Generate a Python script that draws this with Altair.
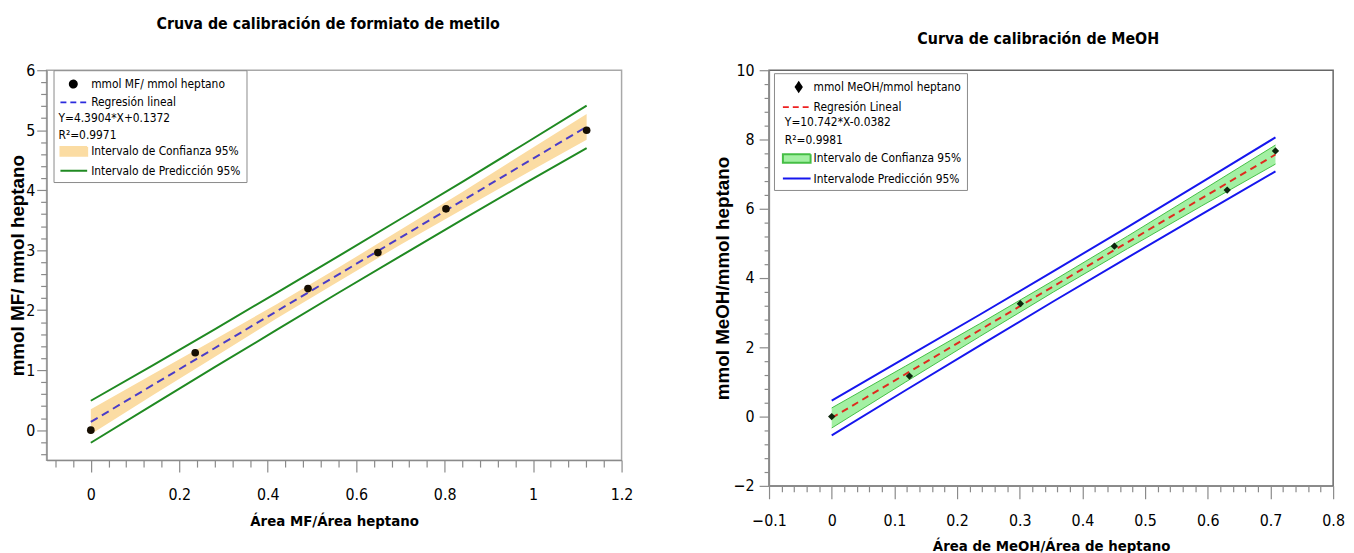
import altair as alt
import pandas as pd

NARROW = "DejaVu Sans Condensed, DejaVu Sans, sans-serif"
SANS = "Liberation Sans, Arial, sans-serif"

# ---------------- Left chart: formiato de metilo ----------------
mf_x = [0.0, 0.236, 0.491, 0.649, 0.803, 1.121]
mf_y = [0.0, 1.29, 2.36, 2.96, 3.69, 5.00]
mf_fit_x = [0.0, 1.121]
mf_fit_y = [0.137, 5.059]
mf_band_x = [0.0, 0.14, 0.28, 0.42, 0.56, 0.70, 0.84, 0.98, 1.121]
mf_ci_lo = [-0.07, 0.58, 1.22, 1.86, 2.48, 3.09, 3.68, 4.26, 4.84]
mf_ci_hi = [0.35, 0.93, 1.51, 2.10, 2.71, 3.34, 3.97, 4.62, 5.27]
mf_pi_lo = [-0.21, 0.42, 1.05, 1.67, 2.29, 2.90, 3.51, 4.11, 4.70]
mf_pi_hi = [0.49, 1.08, 1.68, 2.29, 2.90, 3.52, 4.14, 4.77, 5.41]
mf_legend = ["mmol MF/ mmol heptano", "Regresión lineal", "Y=4.3904*X+0.1372",
             "R²=0.9971", "Intervalo de Confianza 95%", "Intervalo de Predicción 95%"]
mf_xticks = [round(-0.08 + 0.04 * i, 2) for i in range(33)]
mf_yticks = [round(-0.4 + 0.2 * i, 1) for i in range(33)]

# ---------------- Right chart: MeOH ----------------
meoh_x = [0.0, 0.124, 0.301, 0.451, 0.631, 0.708]
meoh_y = [0.0, 1.17, 3.26, 4.92, 6.54, 7.67]
meoh_fit_x = [0.0, 0.708]
meoh_fit_y = [-0.038, 7.567]
meoh_band_x = [0.0, 0.118, 0.236, 0.354, 0.472, 0.59, 0.708]
meoh_ci_lo = [-0.33, 1.00, 2.31, 3.60, 4.85, 6.08, 7.29]
meoh_ci_hi = [0.25, 1.46, 2.68, 3.93, 5.21, 6.52, 7.84]
meoh_pi_lo = [-0.54, 0.76, 2.05, 3.33, 4.59, 5.84, 7.08]
meoh_pi_hi = [0.46, 1.70, 2.94, 4.20, 5.47, 6.76, 8.06]
meoh_legend = ["mmol MeOH/mmol heptano", "Regresión Lineal", "Y=10.742*X-0.0382",
               "R²=0.9981", "Intervalo de Confianza 95%", "Intervalode Predicción 95%"]
meoh_xticks = [round(-0.1 + 0.02 * i, 2) for i in range(46)]
meoh_yticks = [round(-2 + 0.4 * i, 1) for i in range(31)]

LEG_CH = dict(shape="independent", fill="independent", stroke="independent",
              strokeDash="independent")


def make_axis(title, values, test, major, minor, lpad, tpad, tfont, tfs):
    return alt.Axis(
        title=title, values=values,
        labelExpr=f"({test}) ? format(datum.value, '~g') : ''",
        tickSize={"condition": {"test": test, "value": major}, "value": minor},
        tickColor="#8a8a8a", domainColor="#8a8a8a", tickWidth=1.2, domainWidth=1.2,
        labelFont=NARROW, labelFontSize=16, labelColor="black", labelPadding=lpad,
        labelOverlap=False, labelFlush=False,
        titleFont=tfont, titleFontSize=tfs, titleFontWeight="bold", titleColor="black",
        titlePadding=tpad, grid=False,
    )


def legend_layers(field, labels, shapes, fills, strokes, dashes, lx, ly, pad, rowpad, loff, eq_x):
    eqs = [labels[2], labels[3]]
    blank = "indexof(['%s','%s'], datum.label) >= 0 ? '' : datum.label" % (eqs[0], eqs[1])
    leg = alt.Legend(
        title=None, orient="none", legendX=lx, legendY=ly, direction="vertical",
        strokeColor="#8a8a8a", fillColor="white", padding=pad, rowPadding=rowpad,
        labelFont=NARROW, labelFontSize=12, labelColor="black", labelOffset=loff,
        labelLimit=400, symbolSize=256, symbolStrokeWidth=2, symbolOpacity=1,
        labelExpr=blank,
    )
    # second, borderless legend carrying the two equation lines (text only)
    leg_eq = alt.Legend(
        title=None, orient="none", legendX=eq_x, legendY=ly + pad + 2 * (16 + rowpad),
        direction="vertical", padding=0, rowPadding=rowpad,
        labelFont=NARROW, labelFontSize=12, labelColor="black", labelOffset=0,
        labelLimit=400, symbolSize=256, symbolOpacity=0, symbolStrokeWidth=0,
    )
    df = pd.DataFrame({field: labels})
    df_eq = pd.DataFrame({"eq_" + field: eqs})
    main = alt.Chart(df).transform_filter("false").mark_point(opacity=1).encode(
        shape=alt.Shape(f"{field}:N", scale=alt.Scale(domain=labels, range=shapes), legend=leg),
        fill=alt.Fill(f"{field}:N", scale=alt.Scale(domain=labels, range=fills), legend=leg),
        stroke=alt.Stroke(f"{field}:N", scale=alt.Scale(domain=labels, range=strokes), legend=leg),
        strokeDash=alt.StrokeDash(f"{field}:N", scale=alt.Scale(domain=labels, range=dashes), legend=leg),
    )
    eq = alt.Chart(df_eq).transform_filter("false").mark_point(opacity=0).encode(
        shape=alt.Shape(f"eq_{field}:N", scale=alt.Scale(domain=eqs, range=["circle", "circle"]),
                        legend=leg_eq),
    )
    return main, eq


# ---------- left ----------
mfX_axis = make_axis("Área MF/Área heptano", mf_xticks,
                     "abs(datum.value*5 - round(datum.value*5)) < 1e-6", 12, 7, 15, 11, NARROW, 15)
mfY_axis = make_axis("mmol MF/ mmol heptano", mf_yticks,
                     "abs(datum.value - round(datum.value)) < 1e-6", 10, 6, 2, -2, SANS, 19)
mf_xs = alt.Scale(domain=[-0.1, 1.2], nice=False, zero=False)
mf_ys = alt.Scale(domain=[-0.5, 6], nice=False, zero=False)


def mfX(f="x"):
    return alt.X(f"{f}:Q", scale=mf_xs, axis=mfX_axis)


def mfY(f):
    return alt.Y(f"{f}:Q", scale=mf_ys, axis=mfY_axis)


mf_band = pd.DataFrame({"x": mf_band_x, "ci_lo": mf_ci_lo, "ci_hi": mf_ci_hi,
                        "pi_lo": mf_pi_lo, "pi_hi": mf_pi_hi})
mf_pts = pd.DataFrame({"x": mf_x, "y": mf_y})
mf_fit = pd.DataFrame({"x": mf_fit_x, "y": mf_fit_y})

mf_ci = alt.Chart(mf_band).mark_area(color="#FBDCA3", opacity=1).encode(
    x=mfX(), y=mfY("ci_lo"), y2="ci_hi:Q")
mf_pi = alt.Chart(mf_band).transform_fold(["pi_lo", "pi_hi"], as_=["lim", "val"]).mark_line(
    color="#208A22", strokeWidth=2).encode(x=mfX(), y=mfY("val"), detail="lim:N")
mf_line = alt.Chart(mf_fit).mark_line(color="#4A3CC8", strokeWidth=2, strokeDash=[8, 5]).encode(
    x=mfX(), y=mfY("y"))
mf_dots = alt.Chart(mf_pts).mark_point(shape="circle", filled=True, size=60, color="#160e02", opacity=1).encode(
    x=mfX(), y=mfY("y"))

mf_leg, mf_leg_eq = legend_layers(
    "serie_mf", mf_legend,
    ["M0.31,0A0.44,0.44,0,1,0,1.19,0A0.44,0.44,0,1,0,0.31,0Z",
     "M-0.875,0H2.5", "stroke", "stroke",
     "M-0.875,-0.55H2.5V0.55H-0.875Z", "M-0.875,0H2.5"],
    ["black", "transparent", "transparent", "transparent", "#FBDCA3", "transparent"],
    ["black", "#2B2BDD", "transparent", "transparent", "#FBDCA3", "#208A22"],
    [[1, 0], [6, 4], [1, 0], [1, 0], [1, 0], [1, 0]],
    7, 0, 5, 1.5, 15, -4)

left = alt.layer(mf_ci, mf_pi, mf_line, mf_dots, mf_leg, mf_leg_eq).resolve_scale(
    **LEG_CH).resolve_legend(**LEG_CH).properties(
    width=581, height=394,
    title=alt.TitleParams("Cruva de calibración de formiato de metilo", font=NARROW, fontSize=16,
                          fontWeight="bold", color="black", offset=31, dx=-6, anchor="middle"),
    view=alt.ViewBackground(stroke="#a8a8a8", strokeWidth=1.5),
)

# ---------- right ----------
meX_axis = make_axis("Área de MeOH/Área de heptano", meoh_xticks,
                     "abs(datum.value*10 - round(datum.value*10)) < 1e-6", 13, 6, 14, 10, NARROW, 15)
meY_axis = make_axis("mmol MeOH/mmol heptano", meoh_yticks,
                     "abs(datum.value/2 - round(datum.value/2)) < 1e-6", 10, 5, 5, 1, SANS, 19)
me_xs = alt.Scale(domain=[-0.1, 0.8], nice=False, zero=False)
me_ys = alt.Scale(domain=[-2, 10], nice=False, zero=False)


def meX(f="x"):
    return alt.X(f"{f}:Q", scale=me_xs, axis=meX_axis)


def meY(f):
    return alt.Y(f"{f}:Q", scale=me_ys, axis=meY_axis)


me_band = pd.DataFrame({"x": meoh_band_x, "ci_lo": meoh_ci_lo, "ci_hi": meoh_ci_hi,
                        "pi_lo": meoh_pi_lo, "pi_hi": meoh_pi_hi})
me_pts = pd.DataFrame({"x": meoh_x, "y": meoh_y})
me_fit = pd.DataFrame({"x": meoh_fit_x, "y": meoh_fit_y})

me_ci = alt.Chart(me_band).mark_area(color="#A3F0A3", opacity=1).encode(
    x=meX(), y=meY("ci_lo"), y2="ci_hi:Q")
me_ci_edge = alt.Chart(me_band).transform_fold(["ci_lo", "ci_hi"], as_=["lim", "val"]).mark_line(
    color="#45BE45", strokeWidth=1).encode(x=meX(), y=meY("val"), detail="lim:N")
me_pi = alt.Chart(me_band).transform_fold(["pi_lo", "pi_hi"], as_=["lim", "val"]).mark_line(
    color="#1616EE", strokeWidth=2).encode(x=meX(), y=meY("val"), detail="lim:N")
me_line = alt.Chart(me_fit).mark_line(color="#E02A1E", strokeWidth=2, strokeDash=[7, 5]).encode(
    x=meX(), y=meY("y"))
me_dots = alt.Chart(me_pts).mark_point(shape="diamond", filled=True, size=55, color="#0c260c", opacity=1).encode(
    x=meX(), y=meY("y"))

me_leg, me_leg_eq = legend_layers(
    "serie_meoh", meoh_legend,
    ["M1.375,-0.56L1.755,0L1.375,0.56L0.995,0Z",
     "M-0.625,0H2.875", "stroke", "stroke",
     "M-0.625,-0.55H2.875V0.55H-0.625Z", "M-0.625,0H2.875"],
    ["black", "transparent", "transparent", "transparent", "#A3F0A3", "transparent"],
    ["black", "#EE2020", "transparent", "transparent", "#45BE45", "#1616EE"],
    [[1, 0], [6, 4], [1, 0], [1, 0], [1, 0], [1, 0]],
    5, 3, 5, 2.3, 17, 0)

right = alt.layer(me_ci, me_ci_edge, me_pi, me_line, me_dots, me_leg, me_leg_eq).resolve_scale(
    **LEG_CH).resolve_legend(**LEG_CH).properties(
    width=570, height=420,
    title=alt.TitleParams("Curva de calibración de MeOH", font=NARROW, fontSize=16,
                          fontWeight="bold", color="black", offset=16, dx=-13, anchor="middle"),
    view=alt.ViewBackground(stroke="#666666", strokeWidth=1.5),
)

chart = alt.hconcat(left, right, spacing=79).resolve_scale(**LEG_CH).resolve_legend(**LEG_CH).properties(
    padding={"left": 0, "top": 4, "right": 0, "bottom": 0},
    background="white",
)

chart.save("out.html", embed_options={"renderer": "svg", "actions": False})
